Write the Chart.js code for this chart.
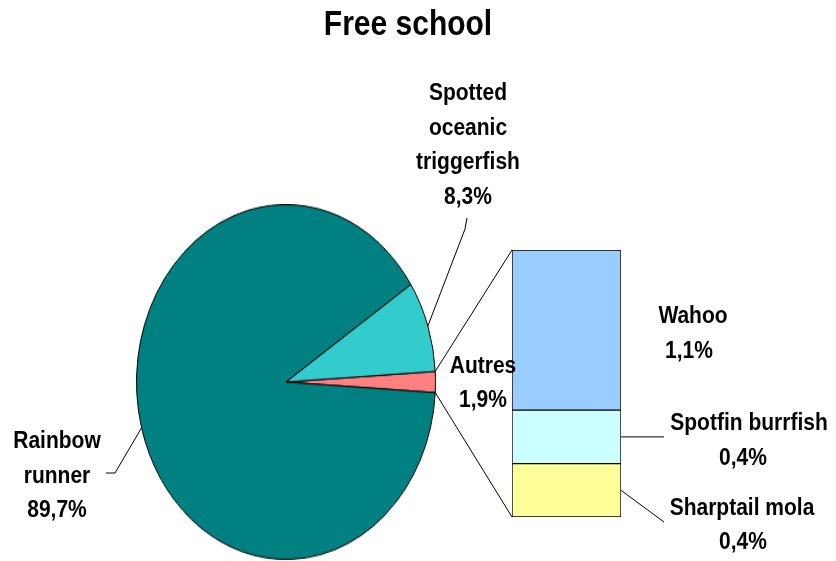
<!DOCTYPE html>
<html>
<head>
<meta charset="utf-8">
<script src="https://cdn.jsdelivr.net/npm/chart.js@4/dist/chart.umd.min.js"></script>
<style>
  body { margin: 0; background: #fff; overflow: hidden; }
  #wrap { position: relative; width: 836px; height: 561px; }
</style>
</head>
<body>
<div id="wrap">
  <canvas id="pieChart" width="300" height="300" style="position:absolute; left:136px; top:204px; width:300px; height:356px;"></canvas>
  <canvas id="barChart" width="836" height="561" style="position:absolute; left:0; top:0; width:836px; height:561px;"></canvas>
</div>
<script>
// DATA
const chartTitle = 'Free school';
const pieLabels = ['Autres', 'Rainbow runner', 'Spotted oceanic triggerfish'];
const pieValues = [1.9, 89.7, 8.3];
const pieColors = ['#FF8080', '#008080', '#33CCCC'];
// bottom to top in the bar
const barLabels = ['Sharptail mola', 'Spotfin burrfish', 'Wahoo'];
const barValues = [0.38, 0.38, 1.14];
const barColors = ['#FFFF99', '#CCFFFF', '#99CCFF'];

const fmt = v => v.toFixed(1).replace('.', ',') + '%';
const pieSum = pieValues.reduce((a, b) => a + b, 0);
const barSum = barValues.reduce((a, b) => a + b, 0);

// pie canvas is stretched by css, so map its points to the page
const PIE_LEFT = 136, PIE_TOP = 204, SY = 356 / 300;
function piePoint(arc, angle) {
  return {
    x: PIE_LEFT + arc.x + Math.cos(angle) * arc.outerRadius,
    y: PIE_TOP + (arc.y + Math.sin(angle) * arc.outerRadius) * SY
  };
}

let pieChart = new Chart(document.getElementById('pieChart').getContext('2d'), {
  type: 'pie',
  data: {
    labels: pieLabels,
    datasets: [{
      data: pieValues,
      backgroundColor: pieColors,
      borderColor: '#000',
      borderWidth: 1,
      hoverOffset: 0
    }]
  },
  options: {
    responsive: false,
    animation: false,
    rotation: 90 - pieValues[0] / pieSum * 180,
    layout: { padding: 0 },
    plugins: { legend: { display: false }, tooltip: { enabled: false } }
  }
});

function tallText(ctx, text, x, y, size) {
  ctx.save();
  ctx.font = 'bold ' + size + 'px "Liberation Sans", Arial, sans-serif';
  ctx.translate(x, y);
  ctx.scale(1, 1.15);
  ctx.fillText(text, 0, 0);
  ctx.restore();
}

function line(ctx, pts) {
  ctx.beginPath();
  ctx.moveTo(pts[0].x, pts[0].y);
  for (let i = 1; i < pts.length; i++) ctx.lineTo(pts[i].x, pts[i].y);
  ctx.stroke();
}

const labelsPlugin = {
  id: 'pieOfBar',
  afterDraw(chart) {
    const ctx = chart.ctx;
    ctx.save();
    ctx.fillStyle = '#000';
    ctx.strokeStyle = '#000';
    ctx.lineWidth = 1;
    ctx.textAlign = 'center';
    ctx.textBaseline = 'middle';

    tallText(ctx, chartTitle, 408, 25, 30);

    const arcs = pieChart.getDatasetMeta(0).data;
    const bars = barValues.map((v, i) => chart.getDatasetMeta(i).data[0]);
    const barLeft = bars[0].x - bars[0].width / 2;
    const barRight = bars[0].x + bars[0].width / 2;

    // connectors from the "Autres" slice to the bar
    const autres = arcs[0];
    line(ctx, [piePoint(autres, autres.startAngle), { x: barLeft, y: bars[2].y }]);
    line(ctx, [piePoint(autres, autres.endAngle), { x: barLeft, y: bars[0].base }]);

    // pie labels
    const mid = a => (a.startAngle + a.endAngle) / 2;
    const rr = arcs[1], so = arcs[2];
    line(ctx, [piePoint(rr, mid(rr)), { x: 115, y: 473 }, { x: 106, y: 473 }]);
    line(ctx, [piePoint(so, mid(so)), { x: 465, y: 229 }, { x: 467, y: 218 }]);

    tallText(ctx, 'Spotted', 468, 93, 21);
    tallText(ctx, 'oceanic', 468, 128, 21);
    tallText(ctx, 'triggerfish', 468, 162, 21);
    tallText(ctx, fmt(pieValues[2]), 468, 197, 21);

    tallText(ctx, 'Rainbow', 57, 441, 21);
    tallText(ctx, 'runner', 57, 476, 21);
    tallText(ctx, fmt(pieValues[1]), 57, 510, 21);

    tallText(ctx, pieLabels[0], 483, 366, 21);
    tallText(ctx, fmt(pieValues[0]), 483, 400, 21);

    // bar labels
    const midY = b => (b.y + b.base) / 2;
    line(ctx, [{ x: barRight, y: midY(bars[1]) }, { x: 664, y: midY(bars[1]) }]);
    line(ctx, [{ x: barRight, y: midY(bars[0]) }, { x: 664, y: 522 }]);

    tallText(ctx, barLabels[2], 693, 316, 21);
    tallText(ctx, fmt(barValues[2]), 689, 351, 21);
    tallText(ctx, barLabels[1], 749, 423, 21);
    tallText(ctx, fmt(barValues[1]), 743, 458, 21);
    tallText(ctx, barLabels[0], 742, 508, 21);
    tallText(ctx, fmt(barValues[0]), 743, 542, 21);
    ctx.restore();
  }
};

let barChart = new Chart(document.getElementById('barChart').getContext('2d'), {
  type: 'bar',
  data: {
    labels: [''],
    datasets: barLabels.map((name, i) => ({
      label: name,
      data: [barValues[i]],
      backgroundColor: barColors[i],
      borderColor: '#000',
      borderWidth: 1,
      borderSkipped: false,
      barPercentage: 1,
      categoryPercentage: 1
    }))
  },
  options: {
    responsive: false,
    animation: false,
    layout: { padding: { left: 512, right: 215, top: 250, bottom: 44 } },
    scales: {
      x: { stacked: true, display: false },
      y: { stacked: true, display: false, min: 0, max: barSum }
    },
    plugins: { legend: { display: false }, tooltip: { enabled: false } }
  },
  plugins: [labelsPlugin]
});
</script>
</body>
</html>
